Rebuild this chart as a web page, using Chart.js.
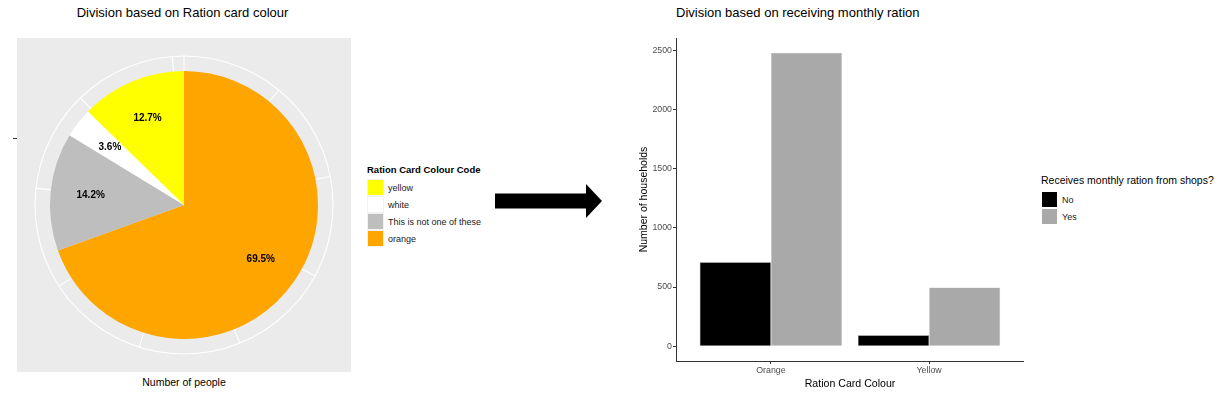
<!DOCTYPE html>
<html>
<head>
<meta charset="utf-8">
<script src="https://cdn.jsdelivr.net/npm/chart.js@4.4.1/dist/chart.umd.min.js"></script>
<style>
    body { margin: 0; background: #fff; font-family: "Liberation Sans", Arial, sans-serif; }
    #tela { position: relative; width: 1226px; height: 396px; overflow: hidden; }
    .abs { position: absolute; white-space: nowrap; }
    .titulo { font-size: 13px; color: #000; line-height: 16px; }
    #pizza { position: absolute; left: 17px; top: 38px; background: #EBEBEB; }
    #barras { position: absolute; left: 620px; top: 0; }
    .leg-item { display: flex; align-items: center; height: 17px; }
    .leg-caixa { width: 17px; height: 17px; background: #F2F2F2; box-sizing: border-box; padding: 1px; }
    .leg-caixa div { width: 100%; height: 100%; }
    .leg-texto { font-size: 9px; color: #1a1a1a; margin-left: 4px; }
</style>
</head>
<body>
<div id="tela">
    <div class="abs titulo" style="left:0; width:365px; top:5px; text-align:center;">Division based on Ration card colour</div>
    <canvas id="pizza" width="334" height="334"></canvas>
    <div class="abs" style="left:13px; top:138px; width:4px; height:1px; background:#333;"></div>
    <div class="abs" style="left:17px; width:334px; top:376px; text-align:center; font-size:10.5px; color:#000;">Number of people</div>

    <div class="abs" style="left:367px; top:164px;">
        <div style="font-size:9.5px; font-weight:bold; color:#000; height:15px;">Ration Card Colour Code</div>
        <div id="legenda-pizza"></div>
    </div>

    <svg class="abs" style="left:495px; top:184px;" width="108" height="34">
        <polygon points="0,9.5 91,9.5 91,0 107,17 91,34 91,24.5 0,24.5" fill="#000"/>
    </svg>

    <div class="abs titulo" style="left:676px; top:5px;">Division based on receiving monthly ration</div>
    <canvas id="barras" width="404" height="396"></canvas>

    <div class="abs" style="left:1041px; top:174px;">
        <div style="font-size:10.5px; color:#000; height:17px;">Receives monthly ration from shops?</div>
        <div id="legenda-barras"></div>
    </div>
</div>

<script>
// pizza: ordem no sentido horario a partir do topo
const fatias = ["orange", "This is not one of these", "white", "yellow"];
const fatiasPct = [69.5, 14.2, 3.6, 12.7];
const fatiasCores = ["#FFA500", "#BEBEBE", "#FFFFFF", "#FFFF00"];
const totalPessoas = 4557;
const quebrasPessoas = [0, 500, 1000, 1500, 2000, 2500, 3000, 3500, 4000, 4500];

// barras
const coresCartao = ["Orange", "Yellow"];
const recebeNao = [710, 93];
const recebeSim = [2478, 497];
const ticksDomicilios = [0, 500, 1000, 1500, 2000, 2500];

const fonte = "'Liberation Sans', Arial, sans-serif";

// legendas em html
const legPizza = document.getElementById("legenda-pizza");
for (let i = fatias.length - 1; i >= 0; i--) {
    legPizza.innerHTML += '<div class="leg-item"><div class="leg-caixa"><div style="background:' + fatiasCores[i] + '"></div></div><span class="leg-texto">' + fatias[i] + '</span></div>';
}
const legBarras = document.getElementById("legenda-barras");
[["No", "#000000"], ["Yes", "#A9A9A9"]].forEach(([rotulo, cor]) => {
    legBarras.innerHTML += '<div class="leg-item"><div class="leg-caixa" style="background:#fff"><div style="background:' + cor + '"></div></div><span class="leg-texto">' + rotulo + '</span></div>';
});

// grade polar (anel + linhas radiais) desenhada antes das fatias
const gradePolar = {
    id: "gradePolar",
    beforeDatasetsDraw(chart) {
        const arco = chart.getDatasetMeta(0).data[0];
        const ctx = chart.ctx;
        const r = arco.outerRadius * 1.112;
        ctx.save();
        ctx.strokeStyle = "#FFFFFF";
        ctx.lineWidth = 1.1;
        ctx.beginPath();
        ctx.arc(arco.x, arco.y, r, 0, Math.PI * 2);
        ctx.stroke();
        quebrasPessoas.forEach(q => {
            const a = -Math.PI / 2 + (q / totalPessoas) * Math.PI * 2;
            ctx.beginPath();
            ctx.moveTo(arco.x, arco.y);
            ctx.lineTo(arco.x + Math.cos(a) * r, arco.y + Math.sin(a) * r);
            ctx.stroke();
        });
        ctx.restore();
    }
};

const rotulosPizza = {
    id: "rotulosPizza",
    afterDatasetsDraw(chart) {
        const ctx = chart.ctx;
        ctx.save();
        ctx.font = "bold 10px " + fonte;
        ctx.fillStyle = "#000";
        ctx.textAlign = "center";
        ctx.textBaseline = "middle";
        chart.getDatasetMeta(0).data.forEach((arco, i) => {
            const meio = (arco.startAngle + arco.endAngle) / 2;
            const r = arco.outerRadius * 0.7;
            ctx.fillText(fatiasPct[i].toFixed(1) + "%", arco.x + Math.cos(meio) * r, arco.y + Math.sin(meio) * r);
        });
        ctx.restore();
    }
};

new Chart(document.getElementById("pizza"), {
    type: "pie",
    data: {
        labels: fatias,
        datasets: [{
            data: fatiasPct,
            backgroundColor: fatiasCores,
            borderWidth: 0
        }]
    },
    options: {
        responsive: false,
        animation: false,
        layout: { padding: 33 },
        plugins: { legend: { display: false }, tooltip: { enabled: false } }
    },
    plugins: [gradePolar, rotulosPizza]
});

const topoY = Math.max(...recebeSim, ...recebeNao);

new Chart(document.getElementById("barras"), {
    type: "bar",
    data: {
        datasets: [{
            label: "No",
            data: coresCartao.map((c, i) => ({ x: i + 1, y: recebeNao[i] })),
            backgroundColor: "#000000",
            borderColor: "#666666",
            borderWidth: 0.6
        }, {
            label: "Yes",
            data: coresCartao.map((c, i) => ({ x: i + 1, y: recebeSim[i] })),
            backgroundColor: "#A9A9A9",
            borderColor: "#C8C8C8",
            borderWidth: 0.6
        }]
    },
    options: {
        responsive: false,
        animation: false,
        layout: { padding: { top: 38, right: 0, bottom: 0, left: 0 } },
        plugins: { legend: { display: false }, tooltip: { enabled: false } },
        datasets: { bar: { categoryPercentage: 0.9, barPercentage: 1 } },
        scales: {
            x: {
                type: "linear",
                min: 0.4,
                max: 2.6,
                offset: false,
                afterBuildTicks: s => { s.ticks = coresCartao.map((c, i) => ({ value: i + 1 })); },
                afterFit: s => { s.height = 35; },
                ticks: {
                    callback: v => coresCartao[v - 1],
                    color: "#4D4D4D",
                    font: { family: fonte, size: 8.8 },
                    padding: 1,
                    maxRotation: 0
                },
                grid: { display: true, drawOnChartArea: false, offset: false, tickLength: 3, color: "#333333" },
                border: { display: true, color: "#333333", width: 1 },
                title: {
                    display: true,
                    text: "Ration Card Colour",
                    color: "#000",
                    font: { family: fonte, size: 10.6 },
                    padding: { top: 0, bottom: 6 }
                }
            },
            y: {
                min: -0.05 * topoY,
                max: topoY * 1.05,
                afterBuildTicks: s => { s.ticks = ticksDomicilios.map(v => ({ value: v })); },
                afterFit: s => { s.width = 56; },
                ticks: {
                    callback: v => String(v),
                    color: "#4D4D4D",
                    font: { family: fonte, size: 8.8 },
                    padding: 1
                },
                grid: { display: true, drawOnChartArea: false, tickLength: 3, color: "#333333" },
                border: { display: true, color: "#333333", width: 1 },
                title: {
                    display: true,
                    text: "Number of households",
                    color: "#000",
                    font: { family: fonte, size: 10.5 },
                    padding: { top: 18, bottom: 0 }
                }
            }
        }
    }
});
</script>
</body>
</html>
